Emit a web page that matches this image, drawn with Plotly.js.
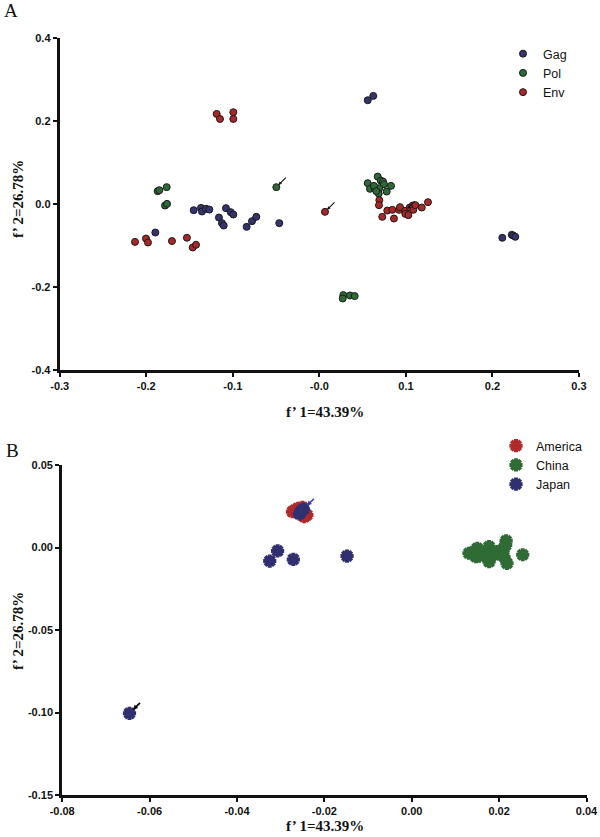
<!DOCTYPE html>
<html>
<head>
<meta charset="utf-8">
<script src="https://cdn.plot.ly/plotly-3.0.1.min.js"></script>
<style>html,body{margin:0;padding:0;background:#fff;}#chart{width:600px;height:837px;}</style>
</head>
<body>
<div id="chart"></div>
<script>
// ---------- Panel A data ----------
const gagX = [-0.1895,-0.1452,-0.1367,-0.1356,-0.131,-0.1271,-0.116,-0.1125,-0.1105,-0.1079,-0.1024,-0.0994,-0.084,-0.0778,-0.0728,-0.0463,0.0559,0.0623,0.2114,0.2223,0.2241,0.2264];
const gagY = [-0.0684,-0.0145,-0.009,-0.0178,-0.0113,-0.013,-0.0323,-0.0458,-0.0516,-0.0096,-0.0193,-0.025,-0.0547,-0.041,-0.0306,-0.0458,0.2506,0.261,-0.0812,-0.074,-0.0757,-0.0788];
const polX = [-0.1868,-0.1849,-0.1764,-0.1783,-0.176,-0.0497,0.0674,0.0709,0.0735,0.0559,0.0585,0.0643,0.0693,0.0686,0.0747,0.0828,0.0778,0.0631,0.0658,0.0277,0.027,0.0354,0.0408];
const polY = [0.0313,0.0337,0.041,-0.0034,0.0007,0.041,0.0665,0.0569,0.0545,0.0506,0.0369,0.0369,0.0386,0.0255,0.0482,0.0441,0.0304,0.0441,0.0313,-0.2193,-0.2275,-0.2202,-0.2217];
const envX = [-0.213,-0.2003,-0.198,-0.1703,-0.153,-0.1463,-0.1425,-0.1186,-0.1148,-0.0994,-0.0994,0.0065,0.0693,0.0689,0.0727,0.0785,0.0843,0.0862,0.092,0.0932,0.099,0.0993,0.1028,0.1044,0.1079,0.1086,0.1109,0.1183,0.1255];
const envY = [-0.091,-0.083,-0.0925,-0.089,-0.081,-0.1045,-0.098,0.2176,0.2055,0.2217,0.2055,-0.0186,0.0096,-0.0024,-0.0306,-0.0154,-0.0137,-0.0347,-0.0137,-0.0072,-0.0161,-0.0234,-0.0265,-0.0082,-0.0034,-0.0137,-0.0024,-0.0082,0.0048];
const arrowAX = [-0.0497, 0.0065, 0.099];
const arrowAY = [0.041, -0.0186, -0.0161];
const aXTicks = [-0.3,-0.2,-0.1,0,0.1,0.2,0.3];
const aXLabels = ["-0.3","-0.2","-0.1","-0.0","0.1","0.2","0.3"];
const aYTicks = [-0.4,-0.2,0,0.2,0.4];
const aYLabels = ["-0.4","-0.2","0.0","0.2","0.4"];

// ---------- Panel B data ----------
const americaX = [-0.0267,-0.026,-0.025,-0.024,-0.0246,-0.0273];
const americaY = [0.0227,0.0238,0.0244,0.0197,0.0187,0.0217];
const chinaX = [0.0131,0.0143,0.015,0.0154,0.0165,0.0177,0.0181,0.0177,0.0188,0.0196,0.0211,0.0216,0.0211,0.0218,0.0254,0.0147,0.0173,0.0215];
const chinaY = [-0.0035,-0.0025,-0.0005,-0.0052,-0.0035,0.0005,-0.0025,-0.0086,-0.0045,-0.0025,-0.0005,0.0041,-0.0056,-0.0096,-0.0044,-0.0056,-0.0059,0.0015];
const japanX = [-0.0254,-0.0248,-0.0257,-0.0325,-0.0307,-0.0271,-0.0148,-0.0646];
const japanY = [0.0217,0.0232,0.0203,-0.0082,-0.0021,-0.0072,-0.0052,-0.1005];
const arrowBX = [-0.0248, -0.0646];
const arrowBY = [0.0232, -0.1005];
const arrowBColors = ["#3a3ab8", "#000000"];
const bXTicks = [-0.08,-0.06,-0.04,-0.02,0,0.02,0.04];
const bXLabels = ["-0.08","-0.06","-0.04","-0.02","0.00","0.02","0.04"];
const bYTicks = [-0.15,-0.10,-0.05,0,0.05];
const bYLabels = ["-0.15","-0.10","-0.05","0.00","0.05"];

const xTitle = "f’ 1=43.39%";
const yTitle = "f’ 2=26.78%";

const tickFont = {family: "Liberation Sans, Arial, sans-serif", size: 11, color: "#111", weight: "bold"};
const titleFont = {family: "Liberation Serif, Times New Roman, serif", size: 15, color: "#111", weight: "bold"};

function dotTrace(name, x, y, color) {
  return {type: "scatter", mode: "markers", name: name, x: x, y: y, xaxis: "x", yaxis: "y",
    legend: "legend",
    marker: {symbol: "circle", size: 7, color: color, line: {color: "#1a1a1a", width: 1}}};
}
function gearTrace(name, x, y, color) {
  return {type: "scatter", mode: "markers", name: name, x: x, y: y, xaxis: "x2", yaxis: "y2",
    legend: "legend2",
    marker: {symbol: "asterisk-open", size: 11, color: color, line: {color: color, width: 4}}};
}

const data = [
  dotTrace("Gag", gagX, gagY, "#34346e"),
  dotTrace("Pol", polX, polY, "#2e6a35"),
  dotTrace("Env", envX, envY, "#a82828"),
  gearTrace("America", americaX, americaY, "#b02a2a"),
  gearTrace("China", chinaX, chinaY, "#2f6b35"),
  gearTrace("Japan", japanX, japanY, "#303070")
];

function axis(domain, range, tv, tt, anchor) {
  return {domain: domain, range: range, tickvals: tv, ticktext: tt, anchor: anchor,
    showline: true, linewidth: 3, linecolor: "#111", mirror: false,
    ticks: "outside", ticklen: 4, tickwidth: 2, tickcolor: "#111",
    ticklabeloverflow: "allow",
    showgrid: false, zeroline: false, tickfont: tickFont, fixedrange: true};
}

const annotations = [];
for (let i = 0; i < arrowAX.length; i++) {
  annotations.push({xref: "x", yref: "y", x: arrowAX[i], y: arrowAY[i], ax: 11, ay: -11,
    text: "", showarrow: true, arrowhead: 2, arrowsize: 0.6, arrowwidth: 1.1, arrowcolor: "#111", standoff: 3});
}
for (let i = 0; i < arrowBX.length; i++) {
  annotations.push({xref: "x2", yref: "y2", x: arrowBX[i], y: arrowBY[i], ax: 12, ay: -12,
    text: "", showarrow: true, arrowhead: 2, arrowsize: 0.6, arrowwidth: 1.6, arrowcolor: arrowBColors[i], standoff: 5});
}
const txt = (text, x, y, font, extra) => Object.assign({xref: "paper", yref: "paper", x: x, y: y, text: text,
  showarrow: false, font: font, xanchor: "center", yanchor: "middle"}, extra || {});
const panelFont = {family: "Liberation Serif, Times New Roman, serif", size: 19, color: "#111"};
annotations.push(txt("A", 11/600, 1 - 11/837, panelFont));
annotations.push(txt("B", 12/600, 1 - 450/837, panelFont));
annotations.push(txt(xTitle, 325/600, 1 - 412/837, titleFont));
annotations.push(txt(xTitle, 325/600, 1 - 826/837, titleFont));
annotations.push(txt(yTitle, 18/600, 1 - 199/837, titleFont, {textangle: -90}));
annotations.push(txt(yTitle, 18/600, 1 - 631/837, titleFont, {textangle: -90}));

const legendFont = {family: "Liberation Sans, Arial, sans-serif", size: 12.5, color: "#111"};
const layout = {
  width: 600, height: 837,
  margin: {l: 0, r: 0, t: 0, b: 0},
  paper_bgcolor: "#fff", plot_bgcolor: "#fff",
  xaxis: axis([59.7/600, 579/600], [-0.3, 0.3], aXTicks, aXLabels, "y"),
  yaxis: axis([1 - 370/837, 1 - 38.3/837], [-0.4, 0.4], aYTicks, aYLabels, "x"),
  xaxis2: axis([62.2/600, 586.5/600], [-0.08, 0.04], bXTicks, bXLabels, "y2"),
  yaxis2: axis([1 - 795/837, 1 - 465/837], [-0.15, 0.05], bYTicks, bYLabels, "x2"),
  legend: {x: 503/600, y: 1 - 39/837, xanchor: "left", yanchor: "top", font: legendFont,
    bgcolor: "rgba(0,0,0,0)", borderwidth: 0, itemclick: false},
  legend2: {x: 496/600, y: 1 - 431/837, xanchor: "left", yanchor: "top", font: legendFont,
    bgcolor: "rgba(0,0,0,0)", borderwidth: 0, itemclick: false},
  annotations: annotations,
  showlegend: true
};

Plotly.newPlot("chart", data, layout, {staticPlot: true, displayModeBar: false});
</script>
</body>
</html>
